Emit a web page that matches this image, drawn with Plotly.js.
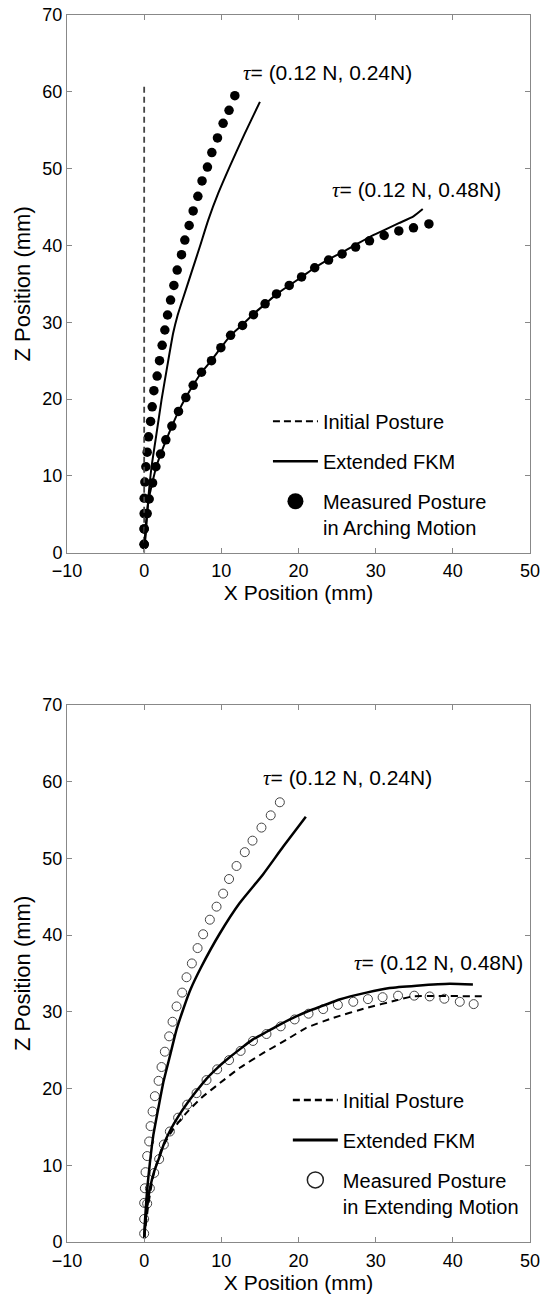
<!DOCTYPE html>
<html>
<head>
<meta charset="utf-8">
<script src="https://cdn.plot.ly/plotly-3.0.1.min.js"></script>
<style>html,body{margin:0;padding:0;background:#fff;}#chart{width:545px;height:1294px;}</style>
</head>
<body>
<div id="chart"></div>
<script>
// ---------- Top panel (arching motion) ----------
const topMeas024X = [0,0,0,0,0.09,0.22,0.39,0.57,0.83,1.04,1.26,1.68,1.99,2.33,2.68,3.03,3.42,3.85,4.28,4.84,5.27,5.83,6.35,6.96,7.5,8.2,8.77,9.5,10.23,11.0,11.75];
const topMeas024Z = [1.1,3.1,5.1,7.1,9.2,11.2,13.1,15.1,17.1,19.0,21.1,23.0,25.0,27.0,29.0,30.95,32.9,34.8,36.8,38.8,40.7,42.6,44.5,46.4,48.4,50.2,52.1,54.0,55.9,57.6,59.5];
const topMeas048X = [0,0,0.39,0.65,1.09,1.52,2.12,2.81,3.59,4.45,5.4,6.35,7.43,8.73,9.94,11.2,12.75,14.17,15.67,17.15,18.8,20.4,22.1,23.9,25.65,27.4,29.2,31.1,33.0,34.9,36.9];
const topMeas048Z = [1.1,3.1,5.1,7.0,9.1,11.2,12.85,14.7,16.5,18.4,20.2,21.8,23.5,25.0,26.7,28.3,29.6,31.0,32.4,33.7,34.8,35.9,37.1,38.1,38.9,39.8,40.6,41.3,41.9,42.3,42.8];
const topFkm024X = [0,0.22,0.52,0.96,1.6,2.25,2.98,3.76,4.3,5.0,6.1,7.2,8.3,9.6,11.1,13.0,15.0];
const topFkm024Z = [0.5,2.5,6.9,11.2,15.5,19.9,24.2,28.6,30.8,33.0,36.4,39.8,43.3,46.8,50.3,54.5,58.7];
const topFkm048X = [0,0.2,0.6,1.1,1.6,2.2,2.9,3.65,4.5,5.45,6.4,7.45,8.75,9.95,11.2,12.75,14.2,15.7,17.2,18.8,20.4,22.1,23.9,25.65,27.4,29.2,31.1,33.0,34.9,36.1];
const topFkm048Z = [0.5,3.5,7.0,9.3,11.3,13.0,14.8,16.6,18.5,20.3,21.9,23.5,25.1,26.7,28.3,29.7,31.1,32.4,33.7,34.8,35.9,37.1,38.2,39.1,40.1,41.1,42.0,42.9,43.8,44.75];
const topInitX = [0,0];
const topInitZ = [0,61.1];

// ---------- Bottom panel (extending motion) ----------
const botMeas024X = [0,0,0,0.09,0.18,0.39,0.65,0.83,1.09,1.39,1.87,2.25,2.68,3.24,3.68,4.2,4.92,5.49,6.18,6.92,7.64,8.51,9.38,10.23,11.0,11.97,13.04,14.04,15.2,16.4,17.58];
const botMeas024Z = [1.1,3.0,5.1,7.0,9.1,11.2,13.1,15.1,17.0,19.0,21.0,22.8,24.8,26.8,28.7,30.7,32.5,34.5,36.3,38.3,40.1,42.0,43.7,45.4,47.3,49.0,50.8,52.3,54.0,55.6,57.3];
const botMeas048X = [0.39,0.74,1.3,1.94,2.55,3.33,4.4,5.57,6.79,8.08,9.46,11.0,12.5,14.1,15.85,17.7,19.5,21.3,23.2,25.1,27.1,29.0,30.9,32.9,35.0,37.0,38.9,40.9,42.7];
const botMeas048Z = [5.0,7.0,9.0,10.8,12.7,14.4,16.2,17.9,19.4,21.1,22.5,23.7,24.9,26.2,27.1,28.1,29.0,29.75,30.35,30.9,31.3,31.65,31.9,32.1,32.1,32.0,31.7,31.3,31.0];
const botFkm024X = [0,0.09,0.39,0.74,1.17,1.81,2.46,3.33,4.2,5.05,6.0,7.43,9.8,12.4,15.4,18.0,20.95];
const botFkm024Z = [0.5,2.5,6.9,10.3,13.8,17.3,20.7,24.2,27.7,30.3,32.9,35.9,40.2,44.2,47.9,51.5,55.4];
const botFkm048X = [0,0.3,0.75,1.3,1.95,2.6,3.4,4.45,5.6,6.8,8.1,9.5,11.0,12.5,14.1,15.9,17.7,19.5,21.3,23.2,25.3,28.8,31.8,35.3,39.6,42.6];
const botFkm048Z = [0.5,4.0,7.0,9.2,11.0,12.9,14.6,16.4,18.1,19.7,21.3,22.7,24.0,25.2,26.4,27.4,28.4,29.3,30.1,30.8,31.6,32.5,33.1,33.4,33.65,33.55];
const botInitX = [0,0.52,1.17,2.25,3.76,5.27,7.43,9.8,12.4,15.4,18.5,21.0,24.5,28.8,32.7,34.8,44.4];
const botInitZ = [0.5,4.7,8.6,12.1,14.7,16.6,18.8,20.7,22.7,24.6,26.4,27.9,29.2,30.5,31.5,32.0,32.0];

// ---------- Text ----------
const legendTop = ["Initial Posture", "Extended FKM", "Measured Posture<br>in Arching Motion"];
const legendBot = ["Initial Posture", "Extended FKM", "Measured Posture<br>in Extending Motion"];
const tauSym = "<span style=\"font-family:'Liberation Serif','DejaVu Serif',serif;font-style:italic\">τ</span>";
const tauLabels = [tauSym + "= (0.12 N, 0.24N)", tauSym + "= (0.12 N, 0.48N)"];
const xTitle = "X Position (mm)";
const zTitle = "Z Position (mm)";

const FONT = "'Liberation Sans', Arial, Helvetica, sans-serif";

function line(x, y, xa, ya, color, width, dash) {
  return {x: x, y: y, xaxis: xa, yaxis: ya, type: 'scatter', mode: 'lines',
          line: {color: color, width: width, dash: dash || 'solid', shape: 'spline', smoothing: 0.5},
          showlegend: false, hoverinfo: 'skip'};
}
function pts(x, y, xa, ya, marker) {
  return {x: x, y: y, xaxis: xa, yaxis: ya, type: 'scatter', mode: 'markers',
          marker: marker, showlegend: false, hoverinfo: 'skip'};
}
function legLine(name, leg, grp, dash, width) {
  return {x: [null], y: [null], type: 'scatter', mode: 'lines', name: name, legend: leg, legendgroup: grp,
          line: {color: '#000', width: width, dash: dash}, showlegend: true};
}
function legMarker(name, leg, grp, marker) {
  return {x: [null], y: [null], type: 'scatter', mode: 'markers', name: name, legend: leg, legendgroup: grp,
          marker: marker, showlegend: true};
}

const filled = {symbol: 'circle', size: 9.5, color: '#000'};
const hollow = {symbol: 'circle-open', size: 9, color: '#444', line: {width: 1}};

const traces = [
  // top
  pts(topMeas024X, topMeas024Z, 'x', 'y', filled),
  pts(topMeas048X, topMeas048Z, 'x', 'y', filled),
  line(topInitX, topInitZ, 'x', 'y', '#444', 1.8, '6px,4px'),
  line(topFkm024X, topFkm024Z, 'x', 'y', '#000', 2),
  line(topFkm048X, topFkm048Z, 'x', 'y', '#000', 2),
  // bottom
  pts(botMeas024X, botMeas024Z, 'x2', 'y2', hollow),
  pts(botMeas048X, botMeas048Z, 'x2', 'y2', hollow),
  line(botInitX, botInitZ, 'x2', 'y2', '#000', 2, '7px,5px'),
  line(botFkm024X, botFkm024Z, 'x2', 'y2', '#000', 2.5),
  line(botFkm048X, botFkm048Z, 'x2', 'y2', '#000', 2.5),
  // legend entries
  legLine(legendTop[0], 'legend', 'a1', '7px,4px', 2),
  legLine(legendTop[1], 'legend', 'a2', 'solid', 2.5),
  legMarker(legendTop[2], 'legend', 'a3', {symbol: 'circle', size: 16, color: '#000'}),
  legLine(legendBot[0], 'legend2', 'b1', '7px,4px', 2.5),
  legLine(legendBot[1], 'legend2', 'b2', 'solid', 3),
  legMarker(legendBot[2], 'legend2', 'b3', {symbol: 'circle-open', size: 16, color: '#222', line: {width: 1.5}})
];

function xax(anchor) {
  return {anchor: anchor, domain: [0, 1], range: [-10, 50], dtick: 10, tick0: 0,
          showgrid: false, zeroline: false, showline: true, mirror: 'ticks',
          linecolor: '#888', linewidth: 1, ticks: 'inside', ticklen: 5, tickcolor: '#888',
          tickfont: {size: 18, color: '#000'}, ticklabelstandoff: 2,
          title: {text: xTitle, font: {size: 21, color: '#000'}, standoff: 4}};
}
function yax(anchor, domain) {
  return {anchor: anchor, domain: domain, range: [0, 70], dtick: 10, tick0: 0,
          showgrid: false, zeroline: false, showline: true, mirror: 'ticks',
          linecolor: '#888', linewidth: 1, ticks: 'inside', ticklen: 5, tickcolor: '#888',
          tickfont: {size: 18, color: '#000'},
          title: {text: zTitle, font: {size: 22, color: '#000'}, standoff: 5}};
}

const annFont = {size: 21, color: '#000', family: FONT};
const layout = {
  width: 545, height: 1294,
  margin: {l: 67, r: 15, t: 15, b: 52.3},
  paper_bgcolor: '#fff', plot_bgcolor: '#fff',
  font: {family: FONT, color: '#000'},
  showlegend: true,
  xaxis: xax('y'),
  yaxis: yax('x', [0.5617, 1]),
  xaxis2: xax('y2'),
  yaxis2: yax('x2', [0, 0.4378]),
  legend: {x: 0.434, y: 0.6848, xanchor: 'left', yanchor: 'top', bgcolor: 'rgba(0,0,0,0)',
           font: {size: 20, color: '#000'}, tracegroupgap: 11, valign: 'top', itemwidth: 45},
  legend2: {x: 0.477, y: 0.1317, xanchor: 'left', yanchor: 'top', bgcolor: 'rgba(0,0,0,0)',
           font: {size: 20, color: '#000'}, tracegroupgap: 11, valign: 'top', itemwidth: 45},
  annotations: [
    {xref: 'x', yref: 'y', x: 12.6, y: 62.4, text: tauLabels[0], showarrow: false, xanchor: 'left', yanchor: 'middle', font: annFont},
    {xref: 'x', yref: 'y', x: 24.1, y: 47.2, text: tauLabels[1], showarrow: false, xanchor: 'left', yanchor: 'middle', font: annFont},
    {xref: 'x2', yref: 'y2', x: 15.2, y: 60.4, text: tauLabels[0], showarrow: false, xanchor: 'left', yanchor: 'middle', font: annFont},
    {xref: 'x2', yref: 'y2', x: 26.9, y: 36.3, text: tauLabels[1], showarrow: false, xanchor: 'left', yanchor: 'middle', font: annFont}
  ]
};

Plotly.newPlot('chart', traces, layout, {staticPlot: true, displayModeBar: false});
</script>
</body>
</html>
